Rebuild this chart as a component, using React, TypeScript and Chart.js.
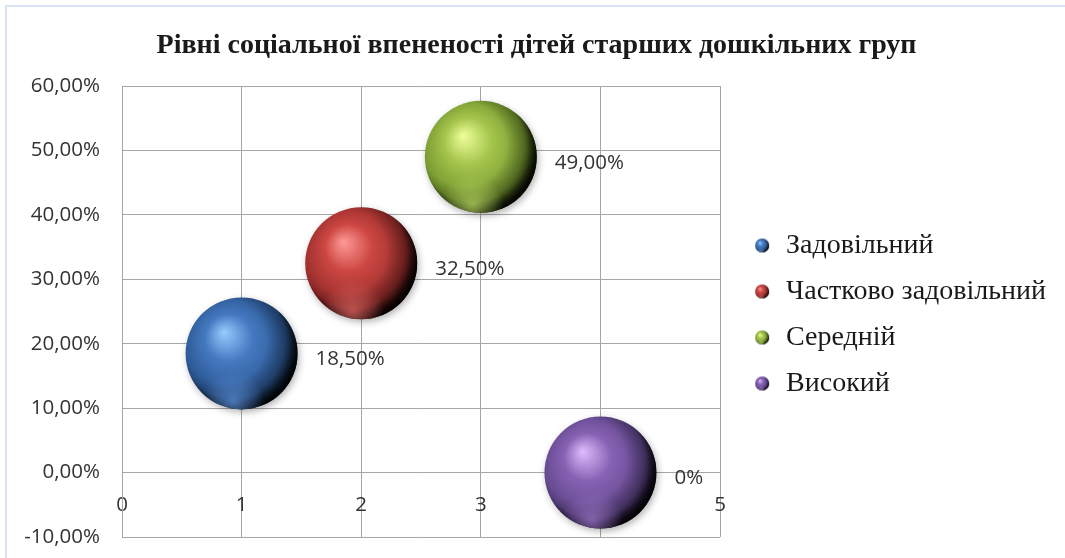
import React, { useEffect, useRef } from 'react';
import { Chart, registerables } from 'chart.js';

Chart.register(...registerables);

const chartTitle = 'Рівні соціальної впененості дітей старших дошкільних груп';
const categories = ['Задовільний', 'Частково задовільний', 'Середній', 'Високий'];
const xValues = [1, 2, 3, 4];
const yValues = [18.5, 32.5, 49, 0];
const bubbleSizes = [56, 56, 56, 56];
const pointLabels = ['18,50%', '32,50%', '49,00%', '0%'];
const xMin = 0, xMax = 5, xStep = 1;
const yMin = -10, yMax = 60, yStep = 10;

const palettes = [
  { hi: '#94ccff', base: '#4479c0', mid: '#2a5590', dark: '#08162c', rim: '90,140,210' },
  { hi: '#ff9a96', base: '#cc4642', mid: '#962c2a', dark: '#260505', rim: '215,100,96' },
  { hi: '#efff9a', base: '#a4c44c', mid: '#74962e', dark: '#202c06', rim: '175,205,95' },
  { hi: '#e0bcff', base: '#8762b4', mid: '#60468a', dark: '#180c28', rim: '150,115,195' },
];

type Pal = { hi: string; base: string; mid: string; dark: string; rim: string };

function paintSphere(ctx: CanvasRenderingContext2D, x: number, y: number, r: number, pal: Pal, shadow: boolean) {
  ctx.save();
  if (shadow) {
    ctx.shadowColor = 'rgba(0,0,0,0.3)';
    ctx.shadowBlur = r * 0.14;
    ctx.shadowOffsetX = r * 0.03;
    ctx.shadowOffsetY = r * 0.05;
  }
  const g = ctx.createRadialGradient(x - 0.32 * r, y - 0.38 * r, 0, x - 0.08 * r, y - 0.1 * r, 1.12 * r);
  g.addColorStop(0, pal.hi);
  g.addColorStop(0.38, pal.base);
  g.addColorStop(0.85, pal.mid);
  g.addColorStop(1, pal.dark);
  ctx.beginPath();
  ctx.arc(x, y, r, 0, Math.PI * 2);
  ctx.fillStyle = g;
  ctx.fill();
  ctx.restore();

  ctx.save();
  ctx.beginPath();
  ctx.arc(x, y, r, 0, Math.PI * 2);
  ctx.clip();
  const cx = x - 0.3 * r, cy = y - 0.22 * r;
  const g2 = ctx.createRadialGradient(cx, cy, 0.75 * r, cx, cy, 1.32 * r);
  g2.addColorStop(0, 'rgba(0,0,0,0)');
  g2.addColorStop(0.55, 'rgba(0,0,0,0.3)');
  g2.addColorStop(1, 'rgba(0,0,0,0.85)');
  ctx.fillStyle = g2;
  ctx.fillRect(x - r, y - r, 2 * r, 2 * r);
  const g3 = ctx.createRadialGradient(x - 0.15 * r, y + 0.85 * r, 0, x - 0.15 * r, y + 0.85 * r, 0.55 * r);
  g3.addColorStop(0, 'rgba(' + pal.rim + ',0.75)');
  g3.addColorStop(1, 'rgba(' + pal.rim + ',0)');
  ctx.fillStyle = g3;
  ctx.fillRect(x - r, y - r, 2 * r, 2 * r);
  ctx.restore();
}

function makeIcon(pal: Pal): HTMLCanvasElement {
  const c = document.createElement('canvas');
  c.width = 30;
  c.height = 16;
  const cx = c.getContext('2d')!;
  paintSphere(cx, 22, 8, 7, pal, false);
  return c;
}

const frameAndSpheres = {
  id: 'frameAndSpheres',
  beforeDraw(chart: any) {
    const ctx = chart.ctx;
    ctx.save();
    ctx.fillStyle = '#ffffff';
    ctx.fillRect(0, 0, chart.width, chart.height);
    ctx.strokeStyle = '#d6e3f2';
    ctx.lineWidth = 2;
    ctx.beginPath();
    ctx.moveTo(6, chart.height + 2);
    ctx.lineTo(6, 6);
    ctx.lineTo(chart.width + 2, 6);
    ctx.stroke();
    ctx.restore();
  },
  afterDatasetsDraw(chart: any) {
    const ctx = chart.ctx;
    chart.data.datasets.forEach((ds: any, i: number) => {
      const meta = chart.getDatasetMeta(i);
      meta.data.forEach((el: any) => {
        paintSphere(ctx, el.x, el.y, el.options.radius, palettes[i], true);
      });
    });
    chart.data.datasets.forEach((ds: any, i: number) => {
      const meta = chart.getDatasetMeta(i);
      meta.data.forEach((el: any) => {
        const r = el.options.radius;
        ctx.save();
        ctx.font = '20.5px "Open Sans"';
        ctx.fillStyle = '#333333';
        ctx.textAlign = 'left';
        ctx.textBaseline = 'middle';
        ctx.fillText(pointLabels[i], el.x + r + 18, el.y + 6);
        ctx.restore();
      });
    });
  },
};

export default function App() {
  const ref = useRef<HTMLCanvasElement>(null);
  useEffect(() => {
    if (!ref.current) return;
    const icons = palettes.map(makeIcon);
    const datasets = categories.map((name, i) => ({
      label: name,
      data: [{ x: xValues[i], y: yValues[i], r: bubbleSizes[i] }],
      backgroundColor: 'rgba(0,0,0,0)',
      borderWidth: 0,
      hoverRadius: 0,
    }));
    const tickFont = { family: '"Open Sans"', size: 20.5 };
    const chart = new Chart(ref.current, {
      type: 'bubble',
      data: { datasets },
      options: {
        responsive: false,
        animation: false,
        events: [],
        layout: { autoPadding: false, padding: { left: 17, right: 9, bottom: 21, top: 0 } },
        scales: {
          xg: {
            type: 'linear',
            min: xMin,
            max: xMax,
            position: { y: 0 },
            z: 0,
            ticks: { display: false, stepSize: xStep },
            grid: { color: '#a6a6a6', drawTicks: false },
            border: { display: false },
          },
          x: {
            type: 'linear',
            min: xMin,
            max: xMax,
            position: { y: 0 },
            z: 1,
            ticks: {
              stepSize: xStep,
              padding: 20,
              color: '#333333',
              font: tickFont,
              maxRotation: 0,
            },
            grid: { display: false, drawTicks: false },
            border: { display: false },
          },
          y: {
            type: 'linear',
            min: yMin,
            max: yMax,
            afterFit: (scale: any) => {
              scale.width = 105;
              scale.paddingBottom = 0;
              scale.paddingTop = 0;
            },
            ticks: {
              stepSize: yStep,
              padding: 22,
              color: '#333333',
              font: tickFont,
              callback: (v: any) => Number(v).toFixed(2).replace('.', ',') + '%',
            },
            grid: { color: '#a6a6a6', drawTicks: false },
            border: { color: '#a6a6a6' },
          },
        },
        plugins: {
          title: {
            display: true,
            text: chartTitle,
            color: '#1a1a1a',
            font: { family: '"Liberation Serif"', size: 28, weight: 'bold' },
            padding: { top: 29, bottom: 23.4 },
          },
          legend: {
            position: 'right',
            fullSize: false,
            maxWidth: 344,
            title: { display: true, text: '', font: { size: 5 }, padding: 0 },
            labels: {
              usePointStyle: true,
              pointStyleWidth: 34,
              boxHeight: 16,
              padding: 18,
              color: '#1a1a1a',
              font: { family: '"Liberation Serif"', size: 28 },
              generateLabels: (ch: any) => {
                const items = (Chart as any).defaults.plugins.legend.labels.generateLabels(ch);
                items.forEach((it: any, i: number) => { it.pointStyle = icons[i]; });
                return items;
              },
            },
          },
          tooltip: { enabled: false },
        },
      } as any,
      plugins: [frameAndSpheres],
    });
    return () => chart.destroy();
  }, []);
  return (
    <div style={{ position: 'fixed', left: 0, top: 0, width: 1065, height: 558 }}>
      <canvas ref={ref} width={1065} height={558} />
    </div>
  );
}
